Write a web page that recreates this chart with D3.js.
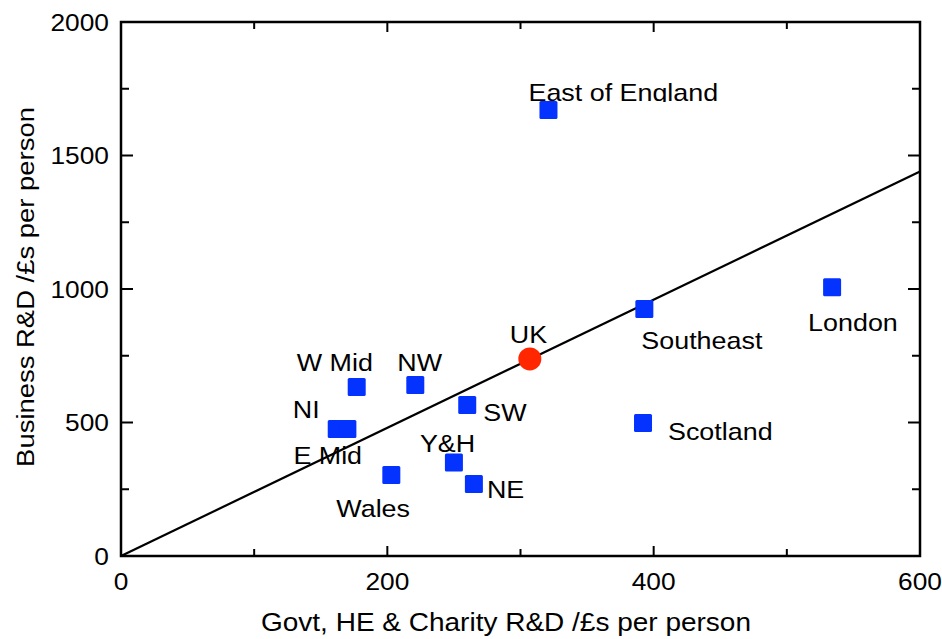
<!DOCTYPE html>
<html><head><meta charset="utf-8">
<script src="https://cdn.jsdelivr.net/npm/d3@7"></script>
<style>body{margin:0;background:#fff}text{font-family:"Liberation Sans",Arial,Helvetica,sans-serif;fill:#000}</style>
</head><body>
<svg id="c" width="942" height="639"></svg>
<script>
const regions = ["East of England","London","Southeast","Scotland","W Mid","NW","NI","E Mid","SW","Y&H","NE","Wales"];
const govtRD  = [321, 534, 393, 392, 177, 221, 162, 170, 260, 250, 265, 203];
const busRD   = [1670, 1007, 925, 498, 633, 640, 476, 476, 566, 350, 270, 303];
const ukLabel = "UK";
const ukGovt = 307, ukBus = 738;
const fitX = [0, 600], fitY = [0, 1440];
const xTicks = [0, 200, 400, 600], xMinor = [100, 300, 500];
const yTicks = [0, 500, 1000, 1500, 2000], yMinor = [250, 750, 1250, 1750];
const xTitle = "Govt, HE & Charity R&D /£s per person";
const yTitle = "Business R&D /£s per person";
// label offsets (style)
const labelOff = [[-20,-9],[-24,44],[-3,40],[25,17],[-60,-16],[-18,-14],[-44,-11],[-54,35],[16,16],[-34,-11],[13,14],[-55,42]];
const ukOff = [-20,-16];

const SX = 1.12;
const svg = d3.select("#c");
const x = d3.scaleLinear().domain([0,600]).range([121,920]);
const y = d3.scaleLinear().domain([0,2000]).range([556,22]);

function txt(g, px, py, s, size, anchor, rot) {
  const t = g.append("g").attr("transform", `translate(${px},${py})` + (rot ? ` rotate(${rot})` : "") + ` scale(${SX},1)`);
  return t.append("text").attr("font-size", size).attr("text-anchor", anchor || "start").text(s);
}

// fit line
svg.append("line").attr("x1", x(fitX[0])).attr("y1", y(fitY[0])).attr("x2", x(fitX[1])).attr("y2", y(fitY[1]))
  .attr("stroke", "#000").attr("stroke-width", 2.2);

// frame
svg.append("rect").attr("x", x(0)).attr("y", y(2000)).attr("width", x(600)-x(0)).attr("height", y(0)-y(2000))
  .attr("fill", "none").attr("stroke", "#000").attr("stroke-width", 2.5);

// ticks (inward, all sides)
const tk = svg.append("g").attr("stroke", "#000").attr("stroke-width", 2);
xTicks.forEach(v => { tk.append("line").attr("x1", x(v)).attr("x2", x(v)).attr("y1", y(0)).attr("y2", y(0)-10);
                      tk.append("line").attr("x1", x(v)).attr("x2", x(v)).attr("y1", y(2000)).attr("y2", y(2000)+10); });
xMinor.forEach(v => { tk.append("line").attr("x1", x(v)).attr("x2", x(v)).attr("y1", y(0)).attr("y2", y(0)-7);
                      tk.append("line").attr("x1", x(v)).attr("x2", x(v)).attr("y1", y(2000)).attr("y2", y(2000)+7); });
yTicks.forEach(v => { tk.append("line").attr("y1", y(v)).attr("y2", y(v)).attr("x1", x(0)).attr("x2", x(0)+12);
                      tk.append("line").attr("y1", y(v)).attr("y2", y(v)).attr("x1", x(600)).attr("x2", x(600)-12); });
yMinor.forEach(v => { tk.append("line").attr("y1", y(v)).attr("y2", y(v)).attr("x1", x(0)).attr("x2", x(0)+8);
                      tk.append("line").attr("y1", y(v)).attr("y2", y(v)).attr("x1", x(600)).attr("x2", x(600)-8); });

// tick labels
const tl = svg.append("g");
xTicks.forEach(v => txt(tl, x(v), 590, d3.format("d")(v), 23.5, "middle"));
yTicks.forEach(v => txt(tl, 109, y(v)+8.5, d3.format("d")(v), 23.5, "end"));

// axis titles
txt(svg, 506, 631, xTitle, 25, "middle");
txt(svg, 34, 287, yTitle, 24.5, "middle", -90);

// clip for the top label (descenders hidden in the reference)
svg.append("clipPath").attr("id", "clipTop").append("rect")
  .attr("x", 0).attr("y", 0).attr("width", 942).attr("height", y(busRD[0]) - 8);

// labels
const lg = svg.append("g");
regions.forEach((r, i) => {
  const holder = i === 0 ? lg.append("g").attr("clip-path", "url(#clipTop)") : lg;
  txt(holder, x(govtRD[i]) + labelOff[i][0], y(busRD[i]) + labelOff[i][1], r, 24, "start");
});
txt(lg, x(ukGovt) + ukOff[0], y(ukBus) + ukOff[1], ukLabel, 24, "start");

// squares
const S = 18;
svg.append("g").selectAll("rect").data(regions).join("rect")
  .attr("x", (d,i) => x(govtRD[i]) - S/2).attr("y", (d,i) => y(busRD[i]) - S/2)
  .attr("width", S).attr("height", S).attr("rx", 1.5)
  .attr("fill", "#0433FF");

// UK circle
svg.append("circle").attr("cx", x(ukGovt)).attr("cy", y(ukBus)).attr("r", 11.5).attr("fill", "#FF2600");
</script>
</body></html>
